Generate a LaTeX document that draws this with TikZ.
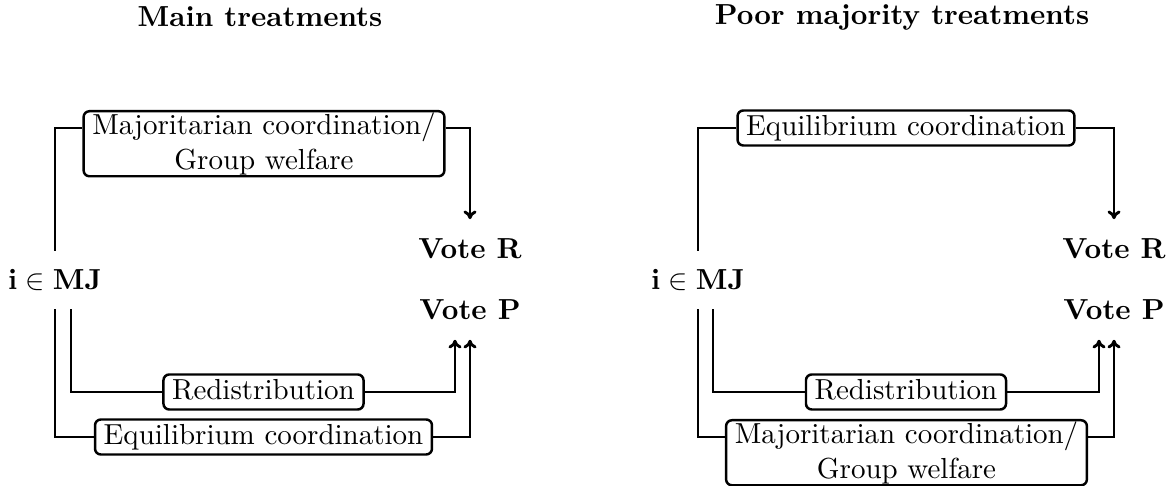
\documentclass[tikz,border=0pt]{standalone}
\usetikzlibrary{arrows.meta}
\begin{document}
\begin{tikzpicture}[x=0.345pt,y=-0.345pt,
  conn/.style={line width=1pt},
  arr/.style={conn,-{To[length=3pt,width=4.5pt]}},
  box/.style={draw,line width=0.85pt,rounded corners=2pt,inner xsep=3pt,inner ysep=1.6pt,text height=6.94pt,text depth=1.94pt},
  tbox/.style={draw,line width=0.85pt,rounded corners=2pt,inner xsep=3pt,inner ysep=0.5pt,align=center},
  vote/.style={font=\bfseries,inner xsep=0pt,inner ysep=6.6pt},
  src/.style={inner xsep=0pt,inner ysep=6.2pt},
  ttl/.style={font=\bfseries}]
\useasboundingbox (0,0) rectangle (1172,486);
% left diagram
\node[ttl] (t1) at (260,17) {Main treatments};
\node[src] (i1) at (55,280) {$\mathbf{i}\in\mathbf{MJ}$};
\node[vote] (r1) at (470,249) {Vote R};
\node[vote] (p1) at (470,310) {Vote P};
\node[tbox,anchor=north] (m1) at (264,110) {Majoritarian coordination/\\Group welfare};
\node[box] (d1) at (263.5,392) {Redistribution};
\node[box] (e1) at (263.5,437) {Equilibrium coordination};
\coordinate (h1) at (55,128);
\draw[conn] (i1.north) |- (m1.west |- h1);
\draw[arr] (m1.east |- h1) -| (r1.north);
\draw[conn] ([xshift=5.52pt]i1.south) |- (d1.west);
\draw[arr] (d1.east) -| ([xshift=-5.18pt]p1.south);
\draw[conn] (i1.south) |- (e1.west);
\draw[arr] (e1.east) -| (p1.south);
% right diagram
\node[ttl] (t2) at (902,17) {Poor majority treatments};
\node[src] (i2) at (698,280) {$\mathbf{i}\in\mathbf{MJ}$};
\node[vote] (r2) at (1114,249) {Vote R};
\node[vote] (p2) at (1114,310) {Vote P};
\node[box] (e2) at (906,128) {Equilibrium coordination};
\node[box] (d2) at (906,392) {Redistribution};
\node[tbox,anchor=north] (m2) at (906.5,419) {Majoritarian coordination/\\Group welfare};
\coordinate (h2) at (698,437);
\draw[conn] (i2.north) |- (e2.west);
\draw[arr] (e2.east) -| (r2.north);
\draw[conn] ([xshift=5.18pt]i2.south) |- (d2.west);
\draw[arr] (d2.east) -| ([xshift=-5.18pt]p2.south);
\draw[conn] (i2.south) |- (m2.west |- h2);
\draw[arr] (m2.east |- h2) -| (p2.south);
\end{tikzpicture}
\end{document}
